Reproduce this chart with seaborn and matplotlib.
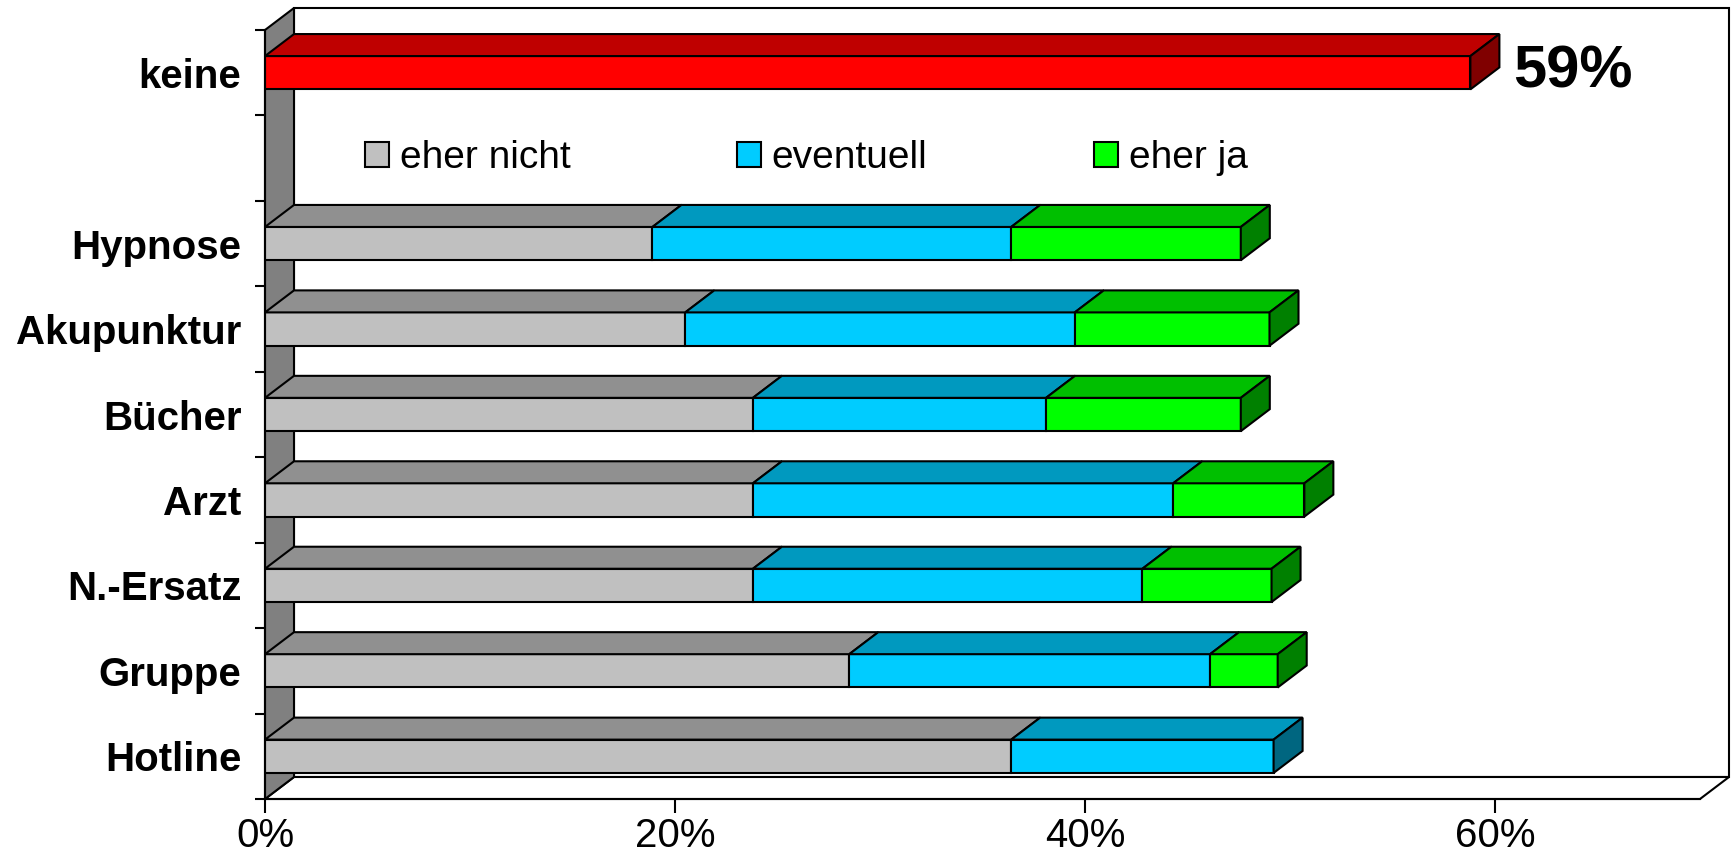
import numpy as np
import pandas as pd
import matplotlib
matplotlib.use("Agg")
import matplotlib.pyplot as plt
import matplotlib.patches as mpatches
from matplotlib.colors import to_rgb
import seaborn as sns

# ---------------- data ----------------
categories = ["Hypnose", "Akupunktur", "Bücher", "Arzt", "N.-Ersatz", "Gruppe", "Hotline"]
eher_nicht = [18.9, 20.5, 23.8, 23.8, 23.8, 28.5, 36.4]
eventuell = [17.5, 19.0, 14.3, 20.5, 19.0, 17.6, 12.8]
eher_ja = [11.2, 9.5, 9.5, 6.4, 6.3, 3.3, 0.0]
series_names = ["eher nicht", "eventuell", "eher ja"]
series_colors = ["#C0C0C0", "#00CCFF", "#00FF00"]
keine_label = "keine"
keine_value = 58.8
keine_color = "#FF0000"
x_ticks = [0, 20, 40, 60]
x_max = 70

# ---------------- style ----------------
sns.set_theme(style="white")
plt.rcParams["font.family"] = ["Liberation Sans", "DejaVu Sans"]
LW = 1.5
BAR_W = 0.39
DEPTH_PX = (29, 22)   # 3D depth offset in pixels (right, up)

order = [keine_label, " "] + categories

df = pd.DataFrame({"cat": categories,
                   series_names[0]: eher_nicht,
                   series_names[1]: eventuell,
                   series_names[2]: eher_ja})

fig = plt.figure(figsize=(17.34, 8.64), dpi=100)
ax = fig.add_axes([265 / 1734, 1 - 799 / 864, 1435 / 1734, 769 / 864])

# red "keine" bar
sns.barplot(x=[keine_value], y=[keine_label], order=order, color=keine_color,
            width=BAR_W, edgecolor="black", linewidth=LW, errorbar=None,
            orient="h", ax=ax, saturation=1)

# stacked bars
left = np.zeros(len(categories))
for name, color in zip(series_names, series_colors):
    vals = df[name].to_numpy(dtype=float)
    sns.barplot(x=vals, y=df["cat"], order=order, left=left, color=color,
                width=BAR_W, edgecolor="black", linewidth=LW, errorbar=None,
                orient="h", ax=ax, saturation=1)
    left = left + vals

ax.set_xlim(0, x_max)
ax.set_ylim(len(order) - 0.5, -0.5)
ax.set_xlabel("")
ax.set_ylabel("")
ax.patch.set_visible(False)

# depth offset in data units
p0 = ax.transData.transform((0, 0))
ox, oy = ax.transData.inverted().transform((p0[0] + DEPTH_PX[0], p0[1] + DEPTH_PX[1]))

y_top, y_bot = -0.5, len(order) - 0.5


def darken(c, f):
    r, g, b = to_rgb(c)
    return (r * f, g * f, b * f)


# bar 3D faces
bars = [p for p in ax.patches if isinstance(p, mpatches.Rectangle) and p.get_width() > 0]
row_end = {}
for p in bars:
    key = round(p.get_y(), 4)
    row_end[key] = max(row_end.get(key, -1), p.get_x() + p.get_width())
for p in bars:
    x0 = p.get_x()
    x1 = x0 + p.get_width()
    yt = p.get_y()
    yb = yt + p.get_height()
    fc = p.get_facecolor()
    top = mpatches.Polygon([(x0, yt), (x1, yt), (x1 + ox, yt + oy), (x0 + ox, yt + oy)],
                           closed=True, facecolor=darken(fc, 0.75), edgecolor="black",
                           linewidth=LW, zorder=1.5, clip_on=False, joinstyle="miter")
    ax.add_patch(top)
    if abs(x1 - row_end[round(yt, 4)]) < 1e-6:
        side = mpatches.Polygon([(x1, yt), (x1 + ox, yt + oy), (x1 + ox, yb + oy), (x1, yb)],
                                closed=True, facecolor=darken(fc, 0.5), edgecolor="black",
                                linewidth=LW, zorder=1.5, clip_on=False, joinstyle="miter")
        ax.add_patch(side)

# walls and floor
back = mpatches.Polygon([(ox, y_top + oy), (x_max + ox, y_top + oy),
                         (x_max + ox, y_bot + oy), (ox, y_bot + oy)],
                        closed=True, facecolor="white", edgecolor="black",
                        linewidth=LW, zorder=0.2, clip_on=False)
floor = mpatches.Polygon([(0, y_bot), (x_max, y_bot), (x_max + ox, y_bot + oy), (ox, y_bot + oy)],
                         closed=True, facecolor="white", edgecolor="black",
                         linewidth=LW, zorder=0.3, clip_on=False)
wall = mpatches.Polygon([(0, y_top), (ox, y_top + oy), (ox, y_bot + oy), (0, y_bot)],
                        closed=True, facecolor="#808080", edgecolor="black",
                        linewidth=LW, zorder=0.4, clip_on=False)
for poly in (back, floor, wall):
    ax.add_patch(poly)

# spines
for s in ("top", "right"):
    ax.spines[s].set_visible(False)
for s in ("left", "bottom"):
    ax.spines[s].set_visible(True)
    ax.spines[s].set_color("black")
    ax.spines[s].set_linewidth(LW)

# ticks
ax.set_yticks(np.arange(len(order)))
ax.set_yticklabels(order)
ax.set_yticks(np.arange(-0.5, len(order), 1), minor=True)
ax.tick_params(axis="y", which="major", left=True, length=0, pad=17, labelsize=29)
ax.tick_params(axis="y", which="minor", left=True, length=7, width=LW, color="black",
               direction="out")
for lbl in ax.get_yticklabels():
    lbl.set_fontweight("bold")
    lbl.set_color("black")

ax.set_xticks(x_ticks)
ax.set_xticklabels([f"{t}%" for t in x_ticks])
ax.tick_params(axis="x", which="major", bottom=True, length=10, width=LW, color="black",
               direction="out", pad=3, labelsize=29, labelcolor="black")

# data label
ax.text(keine_value + ox + 0.68, 0 + 0.17, f"{keine_value:.0f}%", ha="left", va="baseline",
        fontsize=43, fontweight="bold", color="black", clip_on=False)

# legend
handles = [mpatches.Patch(facecolor=c, edgecolor="black", linewidth=LW, label=n)
           for n, c in zip(series_names, series_colors)]
ax.legend(handles=handles, loc="center left", bbox_to_anchor=(4.88, 1.0),
          bbox_transform=ax.transData, ncol=3, frameon=False, fontsize=28,
          handlelength=0.62, handleheight=0.62, handletextpad=0.28,
          columnspacing=4.27, borderpad=0, borderaxespad=0, labelcolor="black")

fig.savefig("out.png", dpi=100)
